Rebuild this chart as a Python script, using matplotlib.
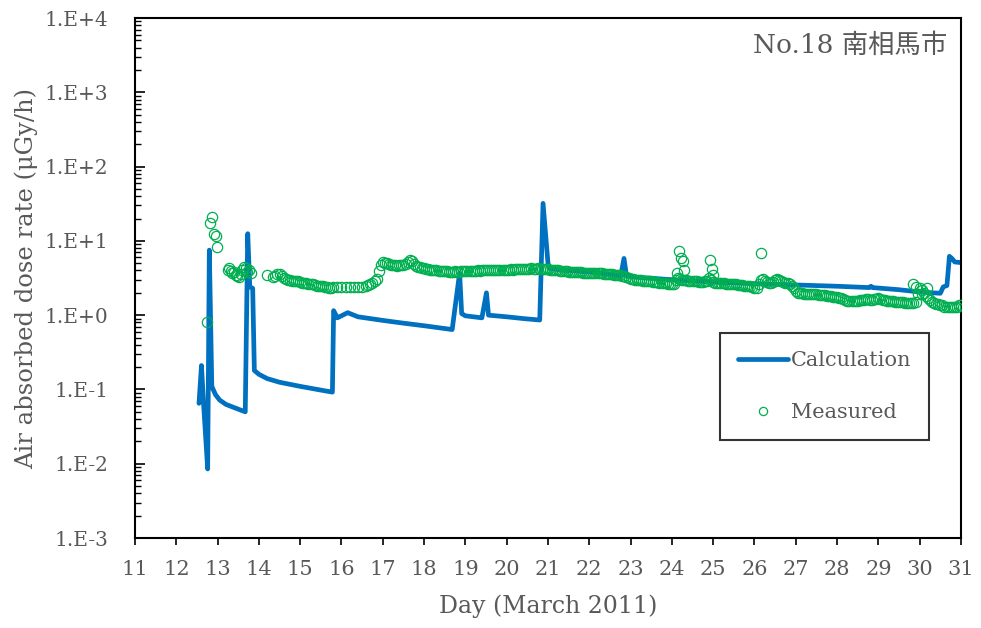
import numpy as np
import matplotlib
matplotlib.use("Agg")
import matplotlib.pyplot as plt
from matplotlib.ticker import FixedLocator, FuncFormatter, LogLocator, NullFormatter

# ---- Calculated dose rate (day of March 2011, uGy/h) ----
calc_day = [12.55, 12.61, 12.66, 12.76, 12.80, 12.86, 12.95, 13.05, 13.20, 13.40,
            13.67, 13.73, 13.78, 13.85, 13.89, 14.00, 14.20, 14.50, 15.00, 15.50,
            15.78, 15.81, 15.90, 15.95, 16.15, 16.40, 17.00, 17.50, 18.00, 18.68,
            18.86, 18.91, 19.00, 19.40, 19.51, 19.56, 20.00, 20.40, 20.80, 20.88,
            21.00, 21.05, 21.50, 22.00, 22.50, 22.76, 22.84, 22.90, 23.10, 24.00,
            25.00, 26.00, 27.00, 28.00, 28.78, 28.82, 28.86, 29.50, 30.00, 30.50,
            30.57, 30.66, 30.72, 30.78, 30.85, 31.00]
calc_rate = [0.065, 0.21, 0.065, 0.0085, 7.5, 0.11, 0.085, 0.072, 0.063, 0.057,
             0.050, 12.5, 2.4, 2.3, 0.18, 0.16, 0.14, 0.125, 0.11, 0.098,
             0.092, 1.15, 0.92, 0.95, 1.08, 0.95, 0.85, 0.78, 0.72, 0.64,
             3.7, 1.05, 0.98, 0.92, 2.0, 1.0, 0.95, 0.90, 0.86, 32.0,
             5.0, 4.2, 4.0, 3.8, 3.55, 3.35, 5.8, 3.4, 3.25, 3.0,
             2.8, 2.65, 2.55, 2.45, 2.35, 2.45, 2.35, 2.2, 2.05, 1.97,
             2.4, 2.5, 6.2, 5.8, 5.2, 5.1]

# ---- Measured dose rate ----
# irregular early readings and isolated high readings
meas_extra_day = [12.75, 12.82, 12.87, 12.92, 12.96, 12.99,
                  13.25, 13.28, 13.32, 13.36, 13.40, 13.44, 13.48, 13.52, 13.56,
                  13.60, 13.64, 13.68, 13.72, 13.76, 13.80, 14.19,
                  24.12, 24.17, 24.22, 24.26, 24.30, 24.92, 24.96, 25.00,
                  26.16, 29.85, 29.90, 30.05, 30.17]
meas_extra_rate = [0.82, 17.3, 20.8, 12.3, 11.5, 8.2,
                   4.1, 4.3, 3.9, 3.7, 3.8, 3.5, 3.4, 3.3, 3.6,
                   4.1, 4.5, 4.3, 3.8, 4.1, 3.7, 3.5,
                   3.7, 7.3, 5.9, 5.4, 4.1, 5.5, 4.2, 3.5,
                   6.9, 2.65, 2.4, 1.9, 2.3]

# regular readings, 14.35 - 15.75 (every 0.05 day)
meas_b_start, meas_b_step = 14.35, 0.05
meas_b_rate = [3.3, 3.4, 3.55, 3.6, 3.4, 3.2, 3.05, 3.0, 2.95, 2.9,
               2.9, 2.85, 2.85, 2.8, 2.75, 2.7, 2.7, 2.65, 2.6, 2.6,
               2.55, 2.5, 2.5, 2.45, 2.45, 2.4, 2.4, 2.35, 2.35]

# sparse readings, 15.80 - 16.60 (every 0.1 day)
meas_c_start, meas_c_step = 15.80, 0.10
meas_c_rate = [2.4, 2.4, 2.4, 2.4, 2.4, 2.4, 2.4, 2.4, 2.45]

# regular readings, 16.65 - 31.00 (every 0.05 day)
meas_d_start, meas_d_step = 16.65, 0.05
meas_d_rate = [
    2.55, 2.6, 2.75, 2.9, 3.1, 3.9, 4.7,
    5.2, 5.1, 5.0, 4.9, 4.8, 4.7, 4.7, 4.6, 4.7, 4.8, 4.8, 4.9, 5.2, 5.5, 5.3, 4.9, 4.6, 4.5, 4.4, 4.3,
    4.25, 4.2, 4.15, 4.1, 4.05, 4.0, 4.0, 3.95, 3.95, 3.9, 3.9, 3.9, 3.85, 3.85, 3.85, 3.9, 3.85, 3.85, 3.9, 3.9,
    3.9, 3.9, 3.95, 3.9, 3.95, 3.95, 4.0, 3.95, 4.0, 4.0, 4.0, 4.0, 4.05, 4.0, 4.05, 4.05, 4.1, 4.05, 4.1, 4.1,
    4.1, 4.1, 4.15, 4.1, 4.15, 4.15, 4.2, 4.15, 4.2, 4.2, 4.2, 4.2, 4.25, 4.2, 4.2, 4.25, 4.2, 4.2, 4.2, 4.2,
    4.15, 4.1, 4.1, 4.05, 4.0, 4.0, 3.95, 3.9, 3.9, 3.9, 3.85, 3.85, 3.85, 3.85, 3.8, 3.8, 3.8, 3.75, 3.75, 3.75,
    3.75, 3.7, 3.7, 3.7, 3.65, 3.65, 3.65, 3.6, 3.6, 3.6, 3.55, 3.55, 3.5, 3.5, 3.5, 3.45, 3.4, 3.35, 3.3, 3.2,
    3.1, 3.05, 3.0, 3.0, 2.95, 2.95, 2.9, 2.9, 2.9, 2.85, 2.85, 2.8, 2.8, 2.8, 2.75, 2.75, 2.7, 2.7, 2.65, 2.6,
    2.6, 2.6, 3.0, 3.2, 3.1, 3.0, 3.0, 2.95, 2.9, 2.9, 2.85, 2.85, 2.85, 2.8, 2.8, 2.8, 2.85, 2.9, 3.2, 3.0,
    2.8, 2.75, 2.75, 2.7, 2.7, 2.7, 2.65, 2.65, 2.65, 2.6, 2.6, 2.6, 2.55, 2.55, 2.55, 2.5, 2.5, 2.45, 2.45, 2.4,
    2.35, 2.35, 2.6, 3.0, 3.1, 2.9, 2.8, 2.7, 2.7, 2.8, 2.95, 3.1, 3.0, 2.9, 2.8, 2.75, 2.7, 2.6, 2.5, 2.3,
    2.1, 2.0, 2.0, 2.0, 1.95, 1.95, 1.95, 1.9, 1.9, 1.9, 1.9, 1.85, 1.85, 1.85, 1.85, 1.8, 1.8, 1.8, 1.75, 1.75,
    1.75, 1.7, 1.7, 1.65, 1.6, 1.55, 1.55, 1.55, 1.55, 1.55, 1.55, 1.6, 1.6, 1.6, 1.65, 1.65, 1.6, 1.6, 1.65, 1.65,
    1.7, 1.65, 1.6, 1.6, 1.55, 1.55, 1.55, 1.55, 1.5, 1.5, 1.5, 1.5, 1.5, 1.45, 1.45, 1.45, 1.45, 1.45, 1.5, 1.9,
    2.3, 2.2, 2.0, 1.8, 1.7, 1.6, 1.5, 1.45, 1.4, 1.4, 1.35, 1.35, 1.3, 1.3, 1.3, 1.3, 1.3, 1.3, 1.3, 1.35,
    1.35,
]

x_ticks = list(range(11, 32))
y_decades = [-3, -2, -1, 0, 1, 2, 3, 4]
station_label = "No.18 南相馬市"


def regular_days(start, step, values):
    return start + step * np.arange(len(values))


meas_day = np.concatenate([
    meas_extra_day,
    regular_days(meas_b_start, meas_b_step, meas_b_rate),
    regular_days(meas_c_start, meas_c_step, meas_c_rate),
    regular_days(meas_d_start, meas_d_step, meas_d_rate),
])
meas_rate = np.concatenate([meas_extra_rate, meas_b_rate, meas_c_rate, meas_d_rate])

TEXT = "#595959"
SERIF = ["DejaVu Serif", "Noto Sans CJK JP"]
plt.rcParams["font.family"] = SERIF

fig = plt.figure(figsize=(9.81, 6.28), dpi=100)
ax = fig.add_axes([0.1376, 0.1433, 0.8420, 0.8280])

ax.plot(calc_day, calc_rate, color="#0070C0", lw=3.4, solid_joinstyle="round",
        solid_capstyle="round", label="Calculation", zorder=2)
ax.plot(meas_day, meas_rate, ls="none", marker="o", ms=7.4, mfc="none",
        mec="#00B050", mew=0.9, label="Measured", zorder=3)

ax.set_yscale("log")
ax.set_ylim(1e-3, 1e4)
ax.set_xlim(11, 31)

ax.yaxis.set_major_locator(FixedLocator([10.0 ** d for d in y_decades]))
ax.yaxis.set_major_formatter(FuncFormatter(lambda v, p: "1.E%+d" % int(round(np.log10(v)))))
ax.yaxis.set_minor_locator(LogLocator(base=10, subs=np.arange(2, 10), numticks=20))
ax.yaxis.set_minor_formatter(NullFormatter())
ax.xaxis.set_major_locator(FixedLocator(x_ticks))

ax.tick_params(axis="y", which="major", direction="in", length=7, width=1.2,
               labelsize=14.5, labelcolor=TEXT, pad=19)
ax.tick_params(axis="y", which="minor", direction="in", length=4.5, width=1.0)
ax.tick_params(axis="x", which="major", direction="out", length=5, width=1.2,
               labelsize=15, labelcolor=TEXT, pad=11)
for s in ax.spines.values():
    s.set_linewidth(1.5)
    s.set_color("black")

ax.set_xlabel("Day (March 2011)", fontsize=17, color=TEXT, labelpad=11)
ax.set_ylabel("Air absorbed dose rate (μGy/h)", fontsize=17.5, color=TEXT, labelpad=5)

ax.text(0.983, 0.947, station_label, transform=ax.transAxes, ha="right", va="center",
        fontsize=19, color=TEXT, family=SERIF)

leg = ax.legend(loc="upper left", bbox_to_anchor=(0.708, 0.394), fontsize=15,
                frameon=True, fancybox=False, edgecolor="black", borderpad=0.85,
                labelspacing=1.6, handlelength=2.4, handletextpad=0.15,
                markerscale=0.8, borderaxespad=0)
leg.get_frame().set_linewidth(1.5)
for t in leg.get_texts():
    t.set_color(TEXT)

fig.savefig("out.png", dpi=100)
